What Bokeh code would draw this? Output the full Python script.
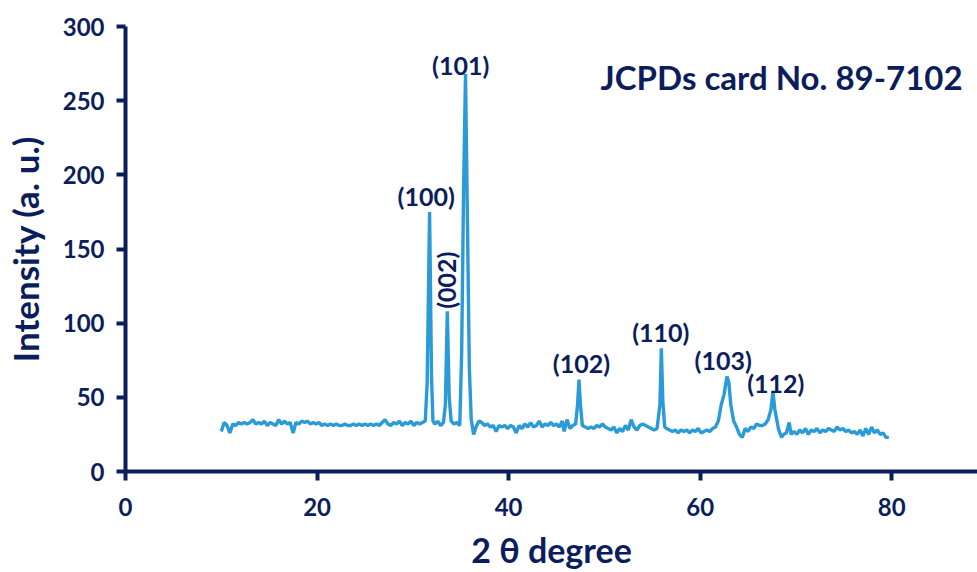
from bokeh.plotting import figure
from bokeh.models import Range1d, ColumnDataSource, Label
from bokeh.embed import file_html
from bokeh.resources import INLINE
from bokeh.core.properties import value
import math

# ---------------- data ----------------
two_theta = [
    10.0, 10.3, 10.6, 10.9, 11.2, 11.5, 11.8, 12.1, 12.4, 12.7, 13.0, 13.3, 13.6, 13.9,
    14.2, 14.5, 14.8, 15.1, 15.4, 15.7, 16.0, 16.3, 16.6, 16.9, 17.2, 17.5, 17.8, 18.1,
    18.4, 18.7, 19.0, 19.3, 19.6, 19.9, 20.2, 20.5, 20.8, 21.1, 21.4, 21.7, 22.0, 22.3,
    22.6, 22.9, 23.2, 23.5, 23.8, 24.1, 24.4, 24.7, 25.0, 25.3, 25.6, 25.9, 26.2, 26.5,
    26.8, 27.1, 27.4, 27.7, 28.0, 28.3, 28.6, 28.9, 29.2, 29.5, 29.8, 30.1, 30.4, 30.7,
    31.0, 31.3, 31.5, 31.75, 31.95, 32.1, 32.3, 32.6, 32.9, 33.2, 33.4, 33.6, 33.8, 34.0,
    34.3, 34.6, 34.9, 35.1, 35.3, 35.5, 35.7, 35.9, 36.1, 36.35, 36.6, 36.9, 37.2, 37.5,
    37.8, 38.1, 38.4, 38.7, 39.0, 39.3, 39.6, 39.9, 40.2, 40.5, 40.8, 41.1, 41.4, 41.7,
    42.0, 42.3, 42.6, 42.9, 43.2, 43.5, 43.8, 44.1, 44.4, 44.7, 45.0, 45.3, 45.6, 45.8,
    46.1, 46.4, 46.7, 47.0, 47.2, 47.35, 47.5, 47.7, 48.0, 48.3, 48.6, 48.9, 49.2, 49.5,
    49.8, 50.1, 50.4, 50.7, 51.0, 51.3, 51.6, 51.9, 52.2, 52.5, 52.8, 53.1, 53.4, 53.7,
    54.0, 54.3, 54.6, 54.9, 55.2, 55.5, 55.8, 55.95, 56.1, 56.3, 56.5, 56.8, 57.1, 57.4,
    57.7, 58.0, 58.3, 58.6, 58.9, 59.2, 59.5, 59.8, 60.1, 60.4, 60.7, 61.0, 61.3, 61.6,
    61.9, 62.2, 62.5, 62.8, 63.0, 63.2, 63.5, 63.8, 64.1, 64.4, 64.7, 65.0, 65.3, 65.6,
    65.9, 66.2, 66.5, 66.8, 67.1, 67.4, 67.6, 67.8, 68.0, 68.2, 68.5, 68.7, 69.0, 69.3,
    69.5, 69.8, 70.1, 70.4, 70.7, 71.0, 71.3, 71.6, 71.9, 72.2, 72.5, 72.8, 73.1, 73.4,
    73.7, 74.0, 74.3, 74.6, 74.9, 75.2, 75.5, 75.8, 76.1, 76.4, 76.7, 77.0, 77.3, 77.6,
    77.9, 78.2, 78.5, 78.8, 79.1, 79.4, 79.7,
]
intensity = [
    27, 33, 31, 26, 32, 31, 33, 32, 33, 32, 33, 35, 32, 33,
    32, 34, 31, 33, 32, 31, 35, 32, 34, 32, 33, 26, 33, 32,
    34, 33, 34, 32, 33, 32, 33, 31, 32, 31, 32, 31, 32, 31,
    31, 32, 31, 31, 32, 31, 32, 31, 32, 31, 32, 31, 32, 31,
    33, 35, 32, 31, 33, 32, 34, 31, 33, 32, 34, 31, 33, 32,
    33, 34, 60, 175, 65, 34, 32, 34, 31, 33, 45, 108, 50, 34,
    32, 33, 31, 80, 190, 268, 170, 70, 35, 25, 30, 34, 33, 31,
    32, 30, 31, 27, 31, 30, 31, 29, 31, 30, 26, 31, 29, 32,
    30, 33, 30, 31, 34, 30, 32, 31, 33, 31, 32, 30, 34, 27,
    35, 29, 31, 32, 45, 62, 45, 31, 30, 29, 30, 29, 31, 30,
    32, 30, 29, 28, 30, 26, 29, 27, 31, 28, 35, 30, 28, 31,
    32, 31, 30, 29, 28, 29, 45, 83, 48, 30, 29, 28, 27, 28,
    26, 28, 27, 28, 26, 28, 27, 29, 26, 27, 28, 27, 29, 30,
    34, 45, 52, 64, 60, 45, 34, 30, 25, 23, 29, 27, 30, 29,
    32, 31, 31, 32, 35, 42, 54, 42, 35, 28, 23, 25, 26, 33,
    25, 27, 25, 28, 26, 29, 25, 28, 27, 29, 26, 28, 27, 29,
    28, 27, 30, 28, 29, 27, 28, 26, 27, 25, 28, 24, 29, 25,
    30, 26, 28, 25, 26, 23, 23,
]

peak_labels = ["(100)", "(002)", "(101)", "(102)", "(110)", "(103)", "(112)"]
label_x = [31.4, 33.5, 35.0, 47.6, 55.9, 62.4, 67.9]
label_y = [186, 129, 274, 73, 94, 75, 60]
label_angle = [0, math.pi / 2, 0, 0, 0, 0, 0]

x_ticks = [0, 20, 40, 60, 80]
y_ticks = [0, 50, 100, 150, 200, 250, 300]

card_text = "JCPDs card No. 89-7102"

# ---------------- style ----------------
NAVY = "#0c1d5b"
BLUE = "#2b9bd8"
FONT = "Lato"

p = figure(width=977, height=572, output_backend="svg", toolbar_location=None,
           x_range=Range1d(0, 88.96), y_range=Range1d(0, 300),
           min_border_left=123, min_border_right=0, min_border_top=26,
           min_border_bottom=100)
p.outline_line_color = None
p.grid.visible = False
p.background_fill_color = "white"
p.border_fill_color = "white"

p.line(two_theta, intensity, line_color=BLUE, line_width=3.4)

src = ColumnDataSource(dict(x=label_x, y=label_y, t=peak_labels, a=label_angle))
p.text(x="x", y="y", text="t", angle="a", source=src, text_align="center",
       text_baseline="middle", text_color=NAVY, text_font=value(FONT),
       text_font_style="bold", text_font_size="25px")

p.add_layout(Label(x=87.4, y=266, text=card_text, text_align="right",
                   text_baseline="middle", text_color=NAVY, text_font=FONT,
                   text_font_style="bold", text_font_size="33px"))

for ax, ticks in ((p.xaxis[0], x_ticks), (p.yaxis[0], y_ticks)):
    ax.ticker = ticks
    ax.minor_tick_line_color = None
    ax.axis_line_color = NAVY
    ax.axis_line_width = 4
    ax.major_tick_line_color = NAVY
    ax.major_tick_line_width = 4
    ax.major_tick_in = 0
    ax.major_tick_out = 9
    ax.major_label_text_color = NAVY
    ax.major_label_text_font = FONT
    ax.major_label_text_font_style = "bold"
    ax.major_label_text_font_size = "24px"
    ax.axis_label_text_color = NAVY
    ax.axis_label_text_font = FONT
    ax.axis_label_text_font_style = "bold"

p.xaxis[0].axis_label = "2 θ degree"
p.xaxis[0].axis_label_text_font_size = "34px"
p.xaxis[0].major_label_standoff = 17
p.xaxis[0].axis_label_standoff = 10

p.yaxis[0].axis_label = "Intensity (a. u.)"
p.yaxis[0].axis_label_text_font_size = "35px"
p.yaxis[0].major_label_standoff = 12
p.yaxis[0].axis_label_standoff = 14

open("out.html", "w").write(file_html(p, INLINE))
